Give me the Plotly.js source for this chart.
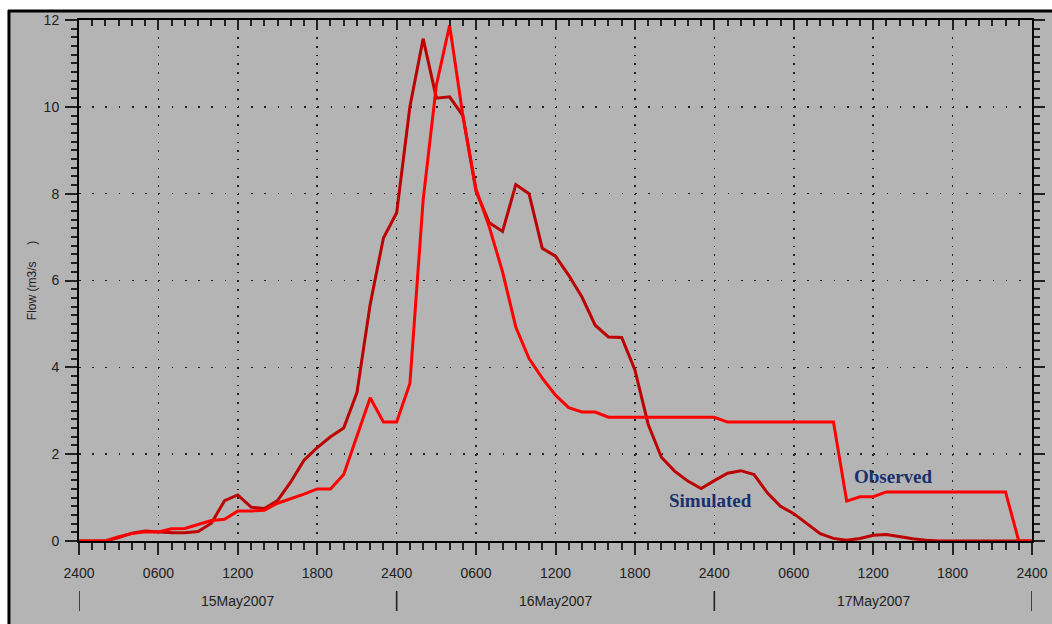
<!DOCTYPE html>
<html>
<head>
<meta charset="utf-8">
<script src="https://cdn.plot.ly/plotly-3.0.1.min.js"></script>
<style>
  html, body { margin: 0; padding: 0; background: #ffffff; }
  #chart { width: 1052px; height: 624px; }
</style>
</head>
<body>
<div id="chart"></div>
<script>
// Hours since 15May2007 0000 (shown as "2400" of previous day)
const hours = [0,1,2,3,4,5,6,7,8,9,10,11,12,13,14,15,16,17,18,19,20,21,22,23,24,
  25,26,27,28,29,30,31,32,33,34,35,36,37,38,39,40,41,42,43,44,45,46,47,48,
  49,50,51,52,53,54,55,56,57,58,59,60,61,62,63,64,65,66,67,68,69,70,71,72];

const simulated = [0,0,0,0.08,0.18,0.23,0.21,0.19,0.19,0.22,0.41,0.93,1.06,0.78,0.75,0.93,1.36,1.86,2.15,2.4,2.6,3.42,5.45,6.98,7.56,
  10.0,11.57,10.2,10.23,9.8,8.05,7.33,7.13,8.21,8.0,6.74,6.56,6.12,5.62,4.97,4.7,4.69,3.94,2.69,1.93,1.61,1.38,1.21,1.39,
  1.56,1.62,1.53,1.11,0.8,0.63,0.41,0.17,0.06,0.02,0.06,0.13,0.15,0.1,0.05,0.02,0,0,0,0,0,0,0,0];

const observed = [0,0,0,0.1,0.17,0.21,0.21,0.28,0.29,0.38,0.47,0.5,0.69,0.69,0.71,0.87,0.97,1.08,1.2,1.2,1.53,2.4,3.3,2.74,2.74,
  3.63,7.85,10.5,11.88,9.8,8.1,7.23,6.2,4.93,4.2,3.75,3.36,3.07,2.97,2.97,2.85,2.85,2.85,2.85,2.85,2.85,2.85,2.85,2.85,
  2.74,2.74,2.74,2.74,2.74,2.74,2.74,2.74,2.74,0.92,1.02,1.02,1.13,1.13,1.13,1.13,1.13,1.13,1.13,1.13,1.13,1.13,0,0];

const tickHours = [0,6,12,18,24,30,36,42,48,54,60,66,72];
const tickLabels = ["2400","0600","1200","1800","2400","0600","1200","1800","2400","0600","1200","1800","2400"];
const dateLabels = ["15May2007","16May2007","17May2007"];
const dateCenters = [12,36,60];
const dayBounds = [0,24,48,72];
const seriesNames = ["Simulated","Observed"];
const yTicks = [0,2,4,6,8,10,12];

const GRAY = '#b4b4b4';
const tickFont = {family: 'Liberation Sans, Arial, sans-serif', size: 14, color: '#222222'};

const traces = [
  {x: hours, y: simulated, type: 'scatter', mode: 'lines', name: seriesNames[0],
   line: {color: '#bd0000', width: 3}, xaxis: 'x', yaxis: 'y'},
  {x: hours, y: observed, type: 'scatter', mode: 'lines', name: seriesNames[1],
   line: {color: '#ff0000', width: 3}, xaxis: 'x', yaxis: 'y'},
  {x: [], y: [], type: 'scatter', mode: 'lines', xaxis: 'x2', yaxis: 'y2', showlegend: false, hoverinfo: 'skip'}
];

const shapes = [
  // gray panel with black frame on left/top
  {type: 'rect', xref: 'paper', yref: 'paper', x0: -0.0745, x1: 1.03, y0: -0.17, y1: 1.0192,
   fillcolor: GRAY, line: {width: 0}, layer: 'below'},
  {type: 'line', xref: 'paper', yref: 'paper', x0: -0.0735, x1: -0.0735, y0: -0.17, y1: 1.0192,
   line: {color: '#000', width: 3}, layer: 'below'},
  {type: 'line', xref: 'paper', yref: 'paper', x0: -0.0745, x1: 1.03, y0: 1.0173, y1: 1.0173,
   line: {color: '#000', width: 3}, layer: 'below'}
];
dayBounds.forEach(function (d) {
  shapes.push({type: 'line', xref: 'x', yref: 'paper', x0: d, x1: d, y0: -0.096, y1: -0.1344,
    line: {color: '#222222', width: 1.6}});
});

const annotations = [
  {xref: 'x', yref: 'y', x: 47.71, y: 0.944, text: '<b>' + seriesNames[0] + '</b>', showarrow: false,
   font: {family: 'Liberation Serif, Times New Roman, serif', size: 19, color: '#1a2f6e'}},
  {xref: 'x', yref: 'y', x: 61.54, y: 1.497, text: '<b>' + seriesNames[1] + '</b>', showarrow: false,
   font: {family: 'Liberation Serif, Times New Roman, serif', size: 19, color: '#1a2f6e'}}
];
dateLabels.forEach(function (t, i) {
  annotations.push({xref: 'x', yref: 'paper', x: dateCenters[i], y: -0.1152, yanchor: 'middle',
    text: t, showarrow: false, font: tickFont});
});

const layout = {
  width: 1052, height: 624,
  margin: {l: 79, r: 20, t: 20, b: 83, pad: 0},
  paper_bgcolor: '#ffffff',
  plot_bgcolor: 'rgba(0,0,0,0)',
  showlegend: false,
  xaxis: {
    range: [0, 72], tickmode: 'array', tickvals: tickHours, ticktext: tickLabels,
    ticks: 'outside', ticklen: 12, tickwidth: 2, tickcolor: '#222',
    ticklabelstandoff: 6,
    minor: {tickmode: 'linear', tick0: 0, dtick: 1, ticks: 'outside', ticklen: 7, tickwidth: 2, tickcolor: '#222', showgrid: false},
    showline: true, linecolor: '#000', linewidth: 2,
    showgrid: true, gridcolor: '#222', gridwidth: 1.6, griddash: '1.6px,7.08px',
    zeroline: false, tickfont: tickFont, fixedrange: true
  },
  yaxis: {
    range: [0, 12], tickmode: 'array', tickvals: yTicks,
    ticks: 'outside', ticklen: 12, tickwidth: 2, tickcolor: '#222',
    ticklabelstandoff: 3,
    minor: {tickmode: 'linear', tick0: 0, dtick: 0.2, ticks: 'outside', ticklen: 6, tickwidth: 2, tickcolor: '#222', showgrid: false},
    showline: true, linecolor: '#000', linewidth: 2,
    showgrid: true, gridcolor: '#222', gridwidth: 1.6, griddash: '1.6px,11.64px',
    zeroline: false, tickfont: tickFont, fixedrange: true, automargin: true,
    title: {text: 'Flow (m3/s\u00a0\u00a0\u00a0\u00a0\u00a0)', font: {family: 'Liberation Sans, Arial, sans-serif', size: 12, color: '#222'}, standoff: 4}
  },
  xaxis2: {
    overlaying: 'x', side: 'top', range: [0, 72], tickmode: 'array', tickvals: tickHours,
    showticklabels: false, ticks: 'inside', ticklen: 10, tickwidth: 2, tickcolor: '#222',
    minor: {tickmode: 'linear', tick0: 0, dtick: 1, ticks: 'inside', ticklen: 6, tickwidth: 2, tickcolor: '#222', showgrid: false},
    showline: true, linecolor: '#000', linewidth: 2, showgrid: false, zeroline: false, fixedrange: true
  },
  yaxis2: {
    overlaying: 'y', side: 'right', range: [0, 12], tickmode: 'array', tickvals: yTicks,
    showticklabels: false, ticks: 'outside', ticklen: 11, tickwidth: 2, tickcolor: '#222',
    minor: {tickmode: 'linear', tick0: 0, dtick: 0.2, ticks: 'outside', ticklen: 6, tickwidth: 2, tickcolor: '#222', showgrid: false},
    showline: true, linecolor: '#000', linewidth: 2, showgrid: false, zeroline: false, fixedrange: true
  },
  shapes: shapes,
  annotations: annotations
};

Plotly.newPlot('chart', traces, layout, {displayModeBar: false, staticPlot: true});
</script>
</body>
</html>
